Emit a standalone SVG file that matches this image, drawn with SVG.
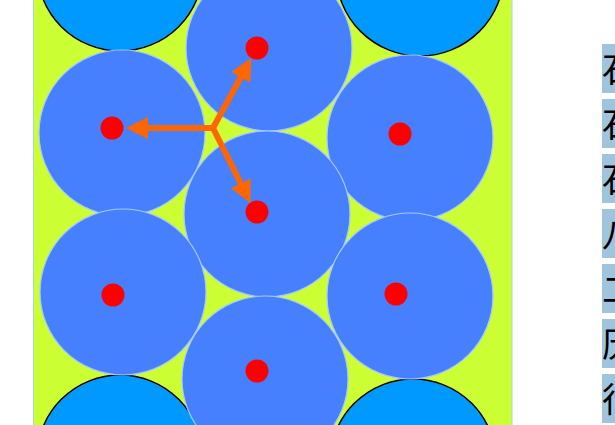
<svg xmlns="http://www.w3.org/2000/svg" width="615" height="425" viewBox="0 0 615 425">
<style>
.bg{fill:#ccff33;stroke:#a8d4f0;stroke-width:1}
.dark{fill:#0099ff;stroke:#000;stroke-width:1.5}
.cell{fill:#4680ff;stroke:#a6c8ff;stroke-width:1.2}
.dot{fill:#ff0000}
.conn{stroke:#ff6600;stroke-width:6;fill:none;marker-end:url(#ah)}
.hl{fill:#9fc5de}
.ch{font-family:"Noto Sans CJK SC","Noto Sans",sans-serif;font-size:34px;fill:#000}
</style>
<defs>
<marker id="ah" markerUnits="userSpaceOnUse" viewBox="0 0 22 22" refX="1" refY="11" markerWidth="22" markerHeight="22" orient="auto">
<path d="M0,0 L22,11 L0,22 z" fill="#ff6600"/>
</marker>
</defs>
<rect class="bg" x="33.5" y="-5" width="478.5" height="440"/>
<g id="corner-tl"><circle class="dark" cx="120" cy="-32" r="83"/></g>
<g id="corner-tr"><circle class="dark" cx="420" cy="-28" r="84"/></g>
<g id="corner-bl"><circle class="dark" cx="120" cy="458" r="83"/></g>
<g id="corner-br"><circle class="dark" cx="413" cy="462" r="83"/></g>
<g id="cell-top"><circle class="cell" cx="269" cy="48" r="83"/><circle class="dot" cx="257" cy="48" r="11.5"/></g>
<g id="cell-left-upper"><circle class="cell" cx="122" cy="133" r="83"/><circle class="dot" cx="112" cy="128" r="11.5"/></g>
<g id="cell-right-upper"><circle class="cell" cx="410" cy="138" r="83"/><circle class="dot" cx="400" cy="134" r="11.5"/></g>
<g id="cell-center"><circle class="cell" cx="267" cy="214" r="83"/><circle class="dot" cx="257" cy="212" r="11.5"/></g>
<g id="cell-left-lower"><circle class="cell" cx="123" cy="292" r="83"/><circle class="dot" cx="113" cy="295" r="11.5"/></g>
<g id="cell-right-lower"><circle class="cell" cx="410" cy="296" r="83"/><circle class="dot" cx="396" cy="294" r="11.5"/></g>
<g id="cell-bottom"><circle class="cell" cx="265" cy="379" r="83"/><circle class="dot" cx="257" cy="371" r="11.5"/></g>
<g id="connectors">
<line class="conn" x1="214" y1="128" x2="147" y2="128"/>
<line class="conn" x1="213" y1="128" x2="241.2" y2="76.5"/>
<line class="conn" x1="213" y1="128" x2="241.1" y2="184.2"/>
</g>
<g id="side-text">
<rect class="hl" x="602" y="44" width="20" height="49"/>
<rect class="hl" x="602" y="99" width="20" height="49"/>
<rect class="hl" x="602" y="154" width="20" height="49"/>
<rect class="hl" x="602" y="209" width="20" height="49"/>
<rect class="hl" x="602" y="264" width="20" height="49"/>
<rect class="hl" x="602" y="319" width="20" height="49"/>
<rect class="hl" x="602" y="374" width="20" height="49"/>
<text class="ch" x="602" y="82">石</text>
<text class="ch" x="602" y="137">石</text>
<text class="ch" x="602" y="192">石</text>
<text class="ch" x="602" y="247">八</text>
<text class="ch" x="602" y="302">二</text>
<text class="ch" x="602" y="357">历</text>
<text class="ch" x="602" y="412">行</text>
</g>
</svg>
